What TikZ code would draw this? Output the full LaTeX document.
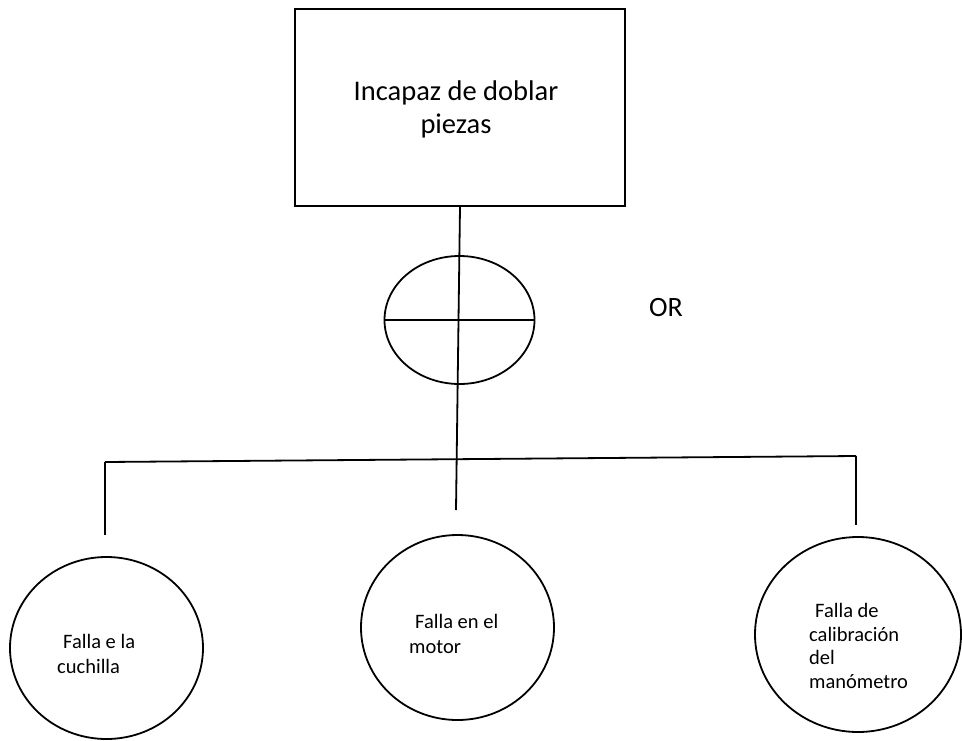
\documentclass[tikz,border=0pt]{standalone}
\usepackage{fontspec}
\setmainfont{Carlito}
\usetikzlibrary{shapes.geometric}
\begin{document}
\begin{tikzpicture}[x=1pt,y=-1pt,
  wire/.style={line width=1.8pt},
  event/.style={draw,line width=1.8pt,ellipse,inner sep=0pt},
  cause/.style={font=\fontsize{20.5}{25}\selectfont,align=left,anchor=base west,inner sep=0pt}]
\useasboundingbox (0,0) rectangle (962,740);

% top event (multi-line text nodes are anchored on the baseline of their last line)
\node[draw,line width=1.8pt,minimum width=330pt,minimum height=197pt,inner sep=0pt] (top) at (460,107.5) {};
\node[align=center,anchor=base,inner sep=0pt,font=\fontsize{28.5}{33}\selectfont] (toptext) at (456,133)
      {Incapaz de doblar\\piezas};

% OR gate
\node[event,minimum width=150pt,minimum height=128pt] (gate) at (459.5,320) {};
\node[font=\fontsize{28}{33}\selectfont,anchor=base west,inner sep=0pt] (or) at (649,316) {OR};

% basic events
\node[event,minimum width=193pt,minimum height=182pt] (c1) at (106.5,648) {};
\node[event,minimum width=193pt,minimum height=185pt] (c2) at (457.5,627.5) {};
\node[event,minimum width=206pt,minimum height=195pt] (c3) at (858,634.5) {};

\node[cause] (t1) at (57,673) {\hspace*{6pt}Falla e la\\cuchilla};
\node[cause] (t2) at (409,653) {\hspace*{6pt}Falla en el\\motor};
\node[cause,font=\fontsize{20.5}{23.5}\selectfont] (t3) at (809,688)
     {\hspace*{6pt}Falla de\\calibración\\del\\manómetro};

% connectors
\coordinate (barL) at (105,462);
\coordinate (barR) at (856,456);
\coordinate (stem) at (456,510);
\coordinate (dropL) at (105,535);
\coordinate (dropR) at (856,525);

\draw[wire] (top.south) -- (stem);
\draw[wire] (gate.west) -- (gate.east);
\draw[wire] (barL) -- (barR);
\draw[wire] (barL) -- (dropL);
\draw[wire] (barR) -- (dropR);
\end{tikzpicture}
\end{document}
